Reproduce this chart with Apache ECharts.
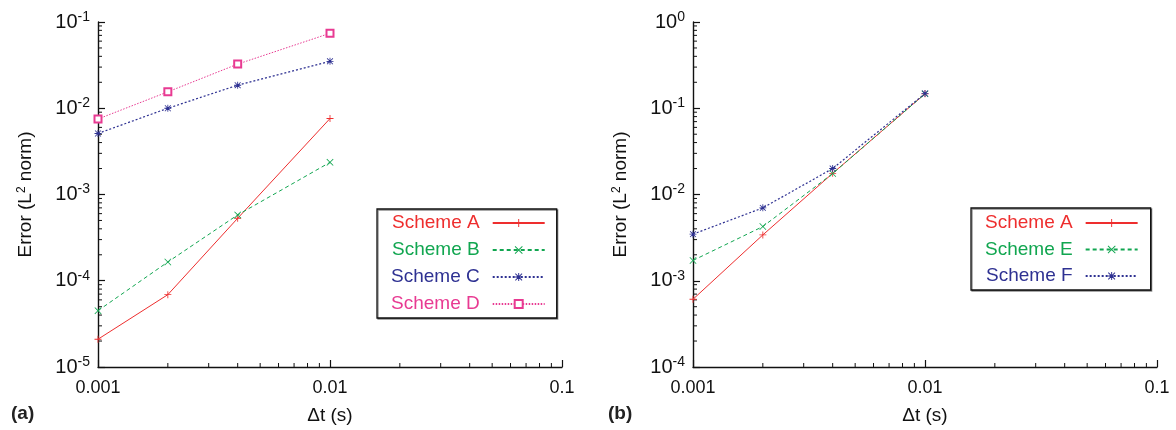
<!DOCTYPE html>
<html>
<head>
<meta charset="utf-8">
<script src="https://cdn.jsdelivr.net/npm/echarts@6/dist/echarts.min.js"></script>
<style>html,body{margin:0;padding:0;background:#fff}#c{width:1176px;height:430px}</style>
</head>
<body>
<div id="c"></div>
<script>
// ---- data ----
const dtValues = [0.001, 0.002, 0.004, 0.01];
const schemeA_a = [2.1e-5, 6.9e-5, 5.3e-4, 7.6e-3];
const schemeB_a = [4.5e-5, 1.65e-4, 5.8e-4, 2.36e-3];
const schemeC_a = [5.1e-3, 1.0e-2, 1.85e-2, 3.5e-2];
const schemeD_a = [7.5e-3, 1.55e-2, 3.25e-2, 7.4e-2];
const schemeA_b = [6.1e-4, 3.4e-3, 1.76e-2, 0.147];
const schemeE_b = [1.72e-3, 4.25e-3, 1.75e-2, 0.147];
const schemeF_b = [3.47e-3, 7.0e-3, 2.0e-2, 0.148];
const legendA = ['Scheme A', 'Scheme B', 'Scheme C', 'Scheme D'];
const legendB = ['Scheme A', 'Scheme E', 'Scheme F'];
const panelLabels = ['(a)', '(b)'];
const xTitle = 'Δt (s)';

const FONT = 'Liberation Sans, Arial, Helvetica, sans-serif';
const RED = '#ee2e2e', GREEN = '#11a650', BLUE = '#2e3192', PINK = '#e83a92';
const colorOf = {'Scheme A': RED, 'Scheme B': GREEN, 'Scheme C': BLUE, 'Scheme D': PINK, 'Scheme E': GREEN, 'Scheme F': BLUE};

const PLUS = 'path://M0,4.4H10V5.6H0ZM4.4,0H5.6V10H4.4Z';
const CROSS = 'path://M0.8,0L5,4.2L9.2,0L10,0.8L5.8,5L10,9.2L9.2,10L5,5.8L0.8,10L0,9.2L4.2,5L0,0.8Z';
const STAR = 'path://M0,4.4H10V5.6H0ZM4.4,0H5.6V10H4.4ZM1.2,0.4L5,4.2L8.8,0.4L9.6,1.2L5.8,5L9.6,8.8L8.8,9.6L5,5.8L1.2,9.6L0.4,8.8L4.2,5L0.4,1.2Z';

const pairs = ys => dtValues.map((x, i) => [x, ys[i]]);

function mk(name, ys, g, symbol, size, dash, width) {
  const c = colorOf[name];
  const empty = symbol === 'emptyRect';
  return {
    name, type: 'line', xAxisIndex: g, yAxisIndex: g, data: pairs(ys),
    symbol, symbolSize: size, showSymbol: true,
    color: c,
    lineStyle: {color: c, width: width || 1, type: dash},
    itemStyle: empty ? {color: c, borderColor: c, borderWidth: 1.2} : {color: c, borderWidth: 0},
    emphasis: {disabled: true}, animation: false
  };
}

const sup = v => '{b|10}{s|' + Math.round(Math.log10(v)) + '}';
function xAx(g) {
  return {
    type: 'log', logBase: 10, gridIndex: g, min: 0.001, max: 0.1,
    name: xTitle, nameLocation: 'middle', nameGap: 39,
    nameTextStyle: {fontFamily: FONT, fontSize: 19, color: '#111'},
    axisLine: {lineStyle: {color: '#111', width: 1.4}},
    axisTick: {inside: true, length: 7, lineStyle: {color: '#111', width: 1.2}},
    axisLabel: {fontFamily: FONT, fontSize: 18, color: '#111', margin: 12,
      formatter: v => String(Number(v.toPrecision(1))), showMinLabel: true, showMaxLabel: true},
    splitLine: {show: false}
  };
}
function yAx(g, mn, mx) {
  return {
    type: 'log', logBase: 10, gridIndex: g, min: mn, max: mx,
    name: 'Error (L{s|2} norm)', nameLocation: 'middle', nameGap: 62, nameRotate: 90,
    nameTextStyle: {fontFamily: FONT, fontSize: 19, color: '#111',
      rich: {s: {fontFamily: FONT, fontSize: 12, color: '#111', verticalAlign: 'top', lineHeight: 20}}},
    axisLine: {lineStyle: {color: '#111', width: 1.4}},
    axisTick: {inside: true, length: 7, lineStyle: {color: '#111', width: 1.2}},
    axisLabel: {fontFamily: FONT, color: '#111', margin: 8, formatter: sup, showMinLabel: true, showMaxLabel: true,
      rich: {b: {fontFamily: FONT, fontSize: 20, lineHeight: 24, color: '#111'},
             s: {fontFamily: FONT, fontSize: 14, lineHeight: 14, color: '#111', verticalAlign: 'top'}}},
    splitLine: {show: false}
  };
}
function legend(names, left, top, padding, gap) {
  return {
    orient: 'vertical', left, top, align: 'right', padding, itemGap: gap,
    itemWidth: 52, itemHeight: 10,
    borderColor: '#111', borderWidth: 1.3, backgroundColor: '#fff',
    shadowColor: 'rgba(0,0,0,0.45)', shadowOffsetX: 1, shadowOffsetY: 1, shadowBlur: 0,
    selectedMode: false,
    data: names.map(n => ({name: n, textStyle: {color: colorOf[n]}})),
    textStyle: {fontFamily: FONT, fontSize: 19, lineHeight: 20, padding: [0, 8, 0, 0]}
  };
}

const chart = echarts.init(document.getElementById('c'), null, {renderer: 'canvas'});
const option = {
  backgroundColor: '#fff',
  animation: false,
  grid: [
    {left: 98, top: 22, width: 464, height: 347},
    {left: 693, top: 22, width: 464, height: 347}
  ],
  xAxis: [xAx(0), xAx(1)],
  yAxis: [yAx(0, 1e-5, 0.1), yAx(1, 1e-4, 1)],
  legend: [
    legend(legendA, 377, 209, [4, 11, 4, 14], 7),
    legend(legendB, 971, 208, [5, 12, 4, 14], 6.5)
  ],
  series: [
    mk('Scheme A', schemeA_a, 0, PLUS, 7, 'solid', 1),
    mk('Scheme B', schemeB_a, 0, CROSS, 7, [4, 3], 1),
    mk('Scheme C', schemeC_a, 0, STAR, 7, [2, 2], 1.2),
    mk('Scheme D', schemeD_a, 0, 'emptyRect', 7, [1.5, 1.5], 1),
    mk('Scheme A', schemeA_b, 1, PLUS, 7, 'solid', 1),
    mk('Scheme E', schemeE_b, 1, CROSS, 7, [4, 3], 1),
    mk('Scheme F', schemeF_b, 1, STAR, 7, [2, 2], 1.2)
  ]
};
chart.setOption(option);

// minor ticks (2..9 within each decade), positioned through the axes' own scales
const els = [];
const tick = (x1, y1, x2, y2) => els.push({type: 'line', silent: true,
  shape: {x1, y1, x2, y2}, style: {stroke: '#111', lineWidth: 1}});
[[0, 1e-5, 0.1], [1, 1e-4, 1]].forEach(([g, ymin, ymax]) => {
  const y0 = chart.convertToPixel({yAxisIndex: g}, ymin);
  const x0 = chart.convertToPixel({xAxisIndex: g}, 0.001);
  for (let d = 0.001; d < 0.099; d *= 10) {
    for (let k = 2; k <= 9; k++) {
      const px = chart.convertToPixel({xAxisIndex: g}, k * d);
      tick(px, y0, px, y0 - 4);
    }
  }
  for (let d = ymin; d < ymax * 0.99; d *= 10) {
    for (let k = 2; k <= 9; k++) {
      const py = chart.convertToPixel({yAxisIndex: g}, k * d);
      tick(x0, py, x0 + 4, py);
    }
  }
});
els.push({type: 'text', left: 11, top: 404, style: {text: panelLabels[0], font: 'bold 19px ' + FONT, fill: '#222'}});
els.push({type: 'text', left: 608, top: 404, style: {text: panelLabels[1], font: 'bold 19px ' + FONT, fill: '#222'}});
chart.setOption({graphic: els});
</script>
</body>
</html>
